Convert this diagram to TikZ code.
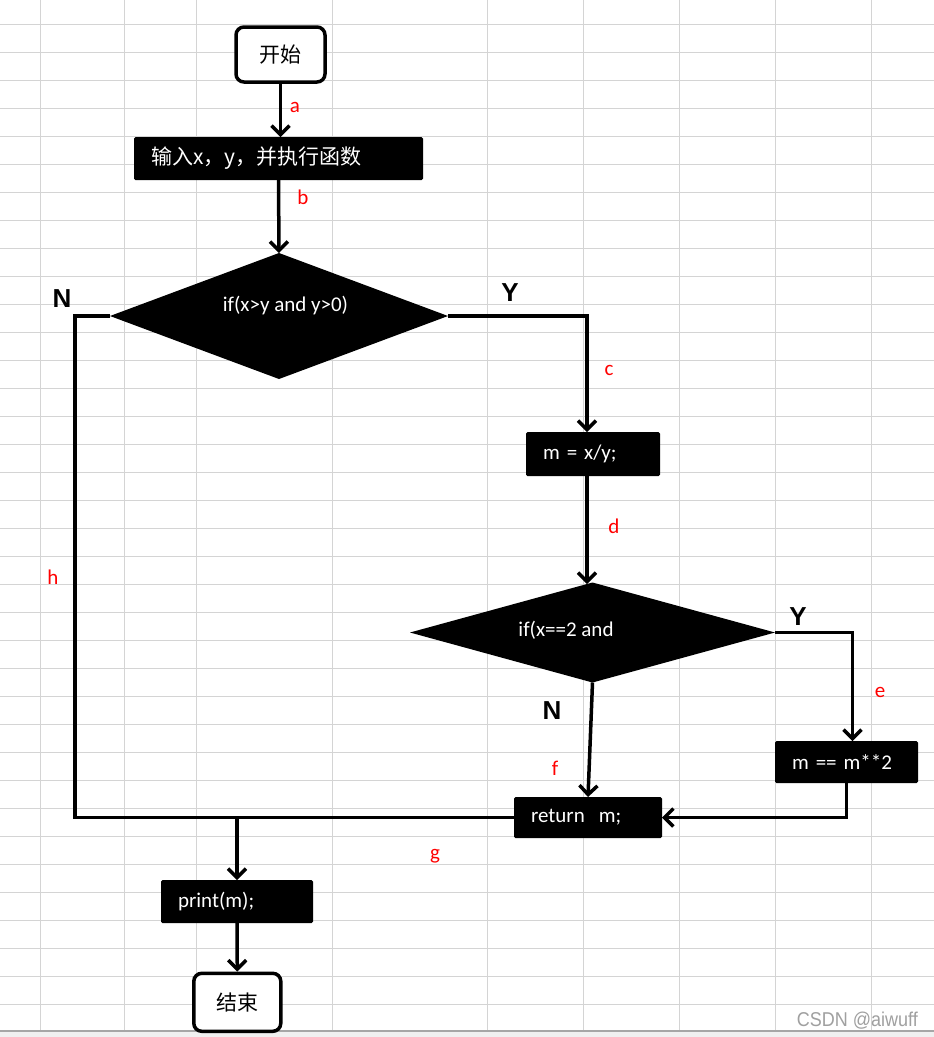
\documentclass[tikz,border=0pt]{standalone}
\usepackage{fontspec}
\setmainfont{Carlito}
\newfontfamily\cjk{Noto Sans CJK SC}
\newfontfamily\arl{Liberation Sans}
\usetikzlibrary{shapes.geometric,arrows.meta,calc}
\definecolor{gridc}{HTML}{D4D4D4}
\definecolor{wmc}{HTML}{A0A0A0}
\tikzset{
  gridline/.style={draw=gridc,line width=1pt},
  conn/.style={line width=3.5pt,line join=miter},
  arr/.style={conn,-{Straight Barb[length=9pt,width=18pt]}},
  termbox/.style={draw=black,fill=white,line width=3.5pt,rounded corners=8pt,inner sep=0pt,
    font=\cjk\fontsize{21}{25}\selectfont},
  procbox/.style={fill=black,text=white,rounded corners=1.5pt,inner ysep=0pt,inner xsep=17pt,
    align=left,outer sep=0pt,font=\fontsize{21}{25}\selectfont},
  decbox/.style={diamond,fill=black,inner sep=0pt,outer sep=0pt},
  dectext/.style={text=white,inner sep=0pt,font=\fontsize{21}{25}\selectfont},
  redlab/.style={text=red,inner sep=0pt,font=\fontsize{21}{24}\selectfont},
  yn/.style={text=black,inner sep=0pt,font=\arl\bfseries\fontsize{26}{30}\selectfont},
}
\begin{document}
\begin{tikzpicture}[x=1pt,y=-1pt]
\useasboundingbox (0,0) rectangle (934,1037);
\fill[white] (0,0) rectangle (934,1037);
% grid
\foreach \x in {40,124,196,332,487,583,679,775,871} \draw[gridline] (\x,0) -- (\x,1030);
\foreach \k in {0,...,35} \draw[gridline] (0,24.3+28*\k) -- (934,24.3+28*\k);
\fill[black!6] (0,1030) rectangle (934,1037);
\draw[draw=black!35,line width=2pt] (0,1031) -- (934,1031);
% nodes
\node[termbox,minimum width=89,minimum height=55] (start) at (280.5,54.5) {开始};
\node[procbox,text width=255,minimum height=43,font=\cjk\fontsize{21}{25}\selectfont] (inp) at (278.5,158.5) {输入x，y，并执行函数};
\node[decbox,minimum width=338,minimum height=126] (d1) at (279,316) {};
\node[dectext] (d1t) at (285.5,306) {if(x>y and y>0)};
\node[procbox,text width=100,minimum height=44] (mx) at (593,454) {m = x/y;};
\node[decbox,minimum width=365,minimum height=100] (d2) at (592.5,632.5) {};
\node[dectext] (d2t) at (566,630) {if(x==2 and};
\node[procbox,text width=109,minimum height=42] (mm) at (846.5,762) {m == m**2};
\node[procbox,text width=114,minimum height=41] (ret) at (588,817.5) {return\ \ m;};
\node[procbox,text width=118,minimum height=43] (pr) at (237,901.5) {print(m);};
\node[termbox,minimum width=87,minimum height=58] (end) at (237.3,1002.3) {结束};
% connectors
\draw[arr] (start.south) -- (start.south |- inp.north);
\draw[arr] (inp.south) -- (d1.north);
\draw[arr] (d1.east) -| ($(mx.north)+(-6,0)$);
\draw[arr] ($(mx.south)+(-6,0)$) -- ($(mx.south)+(-6,108)$);
\draw[arr] (d2.east) -| ($(mm.north)+(6,0)$);
\draw[arr] (d2.south) -- (ret.north);
\draw[arr] (mm.south) |- (ret.east);
\draw[conn] (d1.west) -- ++(-35,0) |- (ret.west);
\draw[arr] (ret.west -| pr.north) -- (pr.north);
\draw[arr] (pr.south) -- (end.north);
% labels
\node[redlab] (la) at (295,107) {a};
\node[redlab] (lb) at (303,197) {b};
\node[redlab] (lc) at (609,370) {c};
\node[redlab] (ld) at (614,526) {d};
\node[redlab] (le) at (880,692) {e};
\node[redlab] (lf) at (555,768) {f};
\node[redlab] (lg) at (435,856) {g};
\node[redlab] (lh) at (53,577) {h};
\node[yn] (y1) at (510,293) {Y};
\node[yn] (y2) at (798,617) {Y};
\node[yn] (n1) at (62,299) {N};
\node[yn] (n2) at (552,711) {N};
\node[text=wmc,inner sep=0pt,anchor=east,xscale=0.9,font=\arl\fontsize{20}{24}\selectfont] (wm) at (918,1021) {CSDN @aiwuff};
\end{tikzpicture}
\end{document}
